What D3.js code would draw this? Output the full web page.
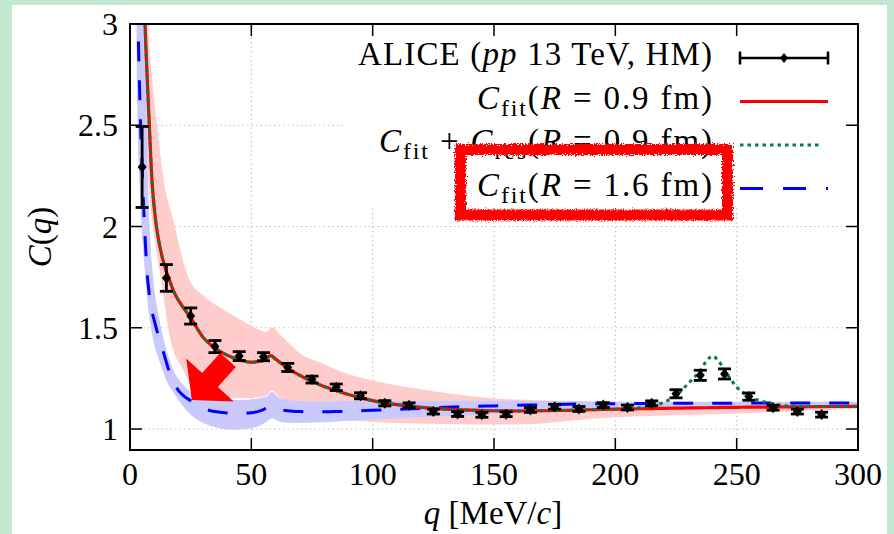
<!DOCTYPE html>
<html><head><meta charset="utf-8">
<script src="https://cdn.jsdelivr.net/npm/d3@7/dist/d3.min.js"></script>
<style>
html,body{margin:0;padding:0;background:#c3e8d1;}
svg{display:block;}
text{font-family:"Liberation Serif","Times New Roman",serif;fill:#000;}
</style></head><body>
<svg id="chart" width="894" height="534"></svg>
<script>
// ---------------- data ----------------
const xTicks = [0, 50, 100, 150, 200, 250, 300];
const xTickLabels = ["0", "50", "100", "150", "200", "250", "300"];
const yTicks = [1, 1.5, 2, 2.5, 3];
const yTickLabels = ["1", "1.5", "2", "2.5", "3"];

// ALICE data points
const dataQ = [5, 15, 25, 35, 45, 55, 65, 75, 85, 95, 105, 115, 125, 135, 145, 155, 165, 175, 185, 195, 205, 215, 225, 235, 245, 255, 265, 275, 285];
const dataC = [2.294, 1.746, 1.558, 1.407, 1.360, 1.357, 1.304, 1.244, 1.206, 1.164, 1.127, 1.117, 1.086, 1.074, 1.070, 1.073, 1.094, 1.110, 1.099, 1.118, 1.106, 1.127, 1.174, 1.265, 1.272, 1.160, 1.105, 1.086, 1.071];
const dataErr = [0.20, 0.066, 0.04, 0.03, 0.022, 0.02, 0.02, 0.017, 0.016, 0.015, 0.013, 0.012, 0.012, 0.012, 0.012, 0.012, 0.012, 0.012, 0.012, 0.012, 0.012, 0.012, 0.02, 0.025, 0.025, 0.018, 0.012, 0.012, 0.012];

// fit curves on a common q grid
const curveQ = [3, 3.5, 4, 4.5, 5, 5.5, 6, 6.5, 7, 8, 9, 10, 11, 12.5, 14, 16, 18, 20, 22.5, 25, 27.5, 30, 35, 40, 45, 50, 55, 58, 60, 65, 70, 75, 80, 85, 90, 95, 100, 110, 120, 130, 140, 150, 160, 170, 180, 190, 200, 210, 215, 220, 225, 230, 235, 237.5, 240, 242.5, 245, 250, 255, 260, 265, 270, 280, 290, 300];
const fitR09 = [5.3, 4.7, 4.2, 3.8, 3.5, 3.25, 3.07, 2.9, 2.76, 2.49, 2.24, 2.09, 1.99, 1.89, 1.815, 1.745, 1.68, 1.635, 1.59, 1.55, 1.50, 1.455, 1.40, 1.365, 1.342, 1.33, 1.338, 1.362, 1.345, 1.30, 1.265, 1.235, 1.21, 1.19, 1.17, 1.155, 1.14, 1.12, 1.107, 1.098, 1.093, 1.09, 1.089, 1.09, 1.092, 1.095, 1.098, 1.10, 1.101, 1.102, 1.103, 1.104, 1.105, 1.105, 1.106, 1.106, 1.107, 1.107, 1.108, 1.108, 1.109, 1.109, 1.110, 1.111, 1.112];
const resContribution = [0, 0, 0, 0, 0, 0, 0, 0, 0, 0, 0, 0, 0, 0, 0, 0, 0, 0, 0, 0, 0, 0, 0, 0, 0, 0, 0, 0, 0, 0, 0, 0, 0, 0, 0, 0, 0, 0, 0, 0, 0, 0, 0, 0, 0, 0, 0, 0.005, 0.012, 0.03, 0.062, 0.12, 0.185, 0.23, 0.254, 0.23, 0.185, 0.10, 0.053, 0.031, 0.015, 0.006, 0.001, 0, 0];
const fitR16 = [3.3, 2.9, 2.66, 2.45, 2.30, 2.13, 2.0, 1.88, 1.78, 1.66, 1.585, 1.535, 1.49, 1.43, 1.37, 1.29, 1.23, 1.19, 1.16, 1.14, 1.12, 1.103, 1.086, 1.079, 1.077, 1.08, 1.096, 1.114, 1.102, 1.09, 1.086, 1.085, 1.085, 1.086, 1.088, 1.09, 1.092, 1.097, 1.102, 1.107, 1.111, 1.114, 1.117, 1.119, 1.122, 1.124, 1.125, 1.126, 1.126, 1.126, 1.127, 1.127, 1.127, 1.127, 1.127, 1.127, 1.127, 1.127, 1.128, 1.128, 1.128, 1.128, 1.128, 1.128, 1.128];

// uncertainty band, R = 0.9 fm
const band09UpperQ = [5, 6, 7, 7.6, 9, 11, 14, 17.9, 21, 24, 30, 37, 45, 52, 56, 58.4, 62, 70, 80, 90, 100, 118, 135, 150, 175, 200, 250, 300];
const band09Upper = [5.0, 4.2, 3.4, 3.0, 2.75, 2.52, 2.22, 2.03, 1.87, 1.75, 1.66, 1.60, 1.545, 1.497, 1.48, 1.502, 1.465, 1.374, 1.32, 1.27, 1.24, 1.20, 1.17, 1.151, 1.14, 1.135, 1.125, 1.12];
const band09LowerQ = [4, 5.5, 6.5, 8, 10.3, 13, 16.5, 22, 26, 30, 40, 50, 56, 58.4, 62, 68, 80, 90, 100, 130, 160, 193, 250, 300];
const band09Lower = [4.5, 3.0, 2.5, 2.17, 1.93, 1.72, 1.45, 1.29, 1.20, 1.165, 1.152, 1.153, 1.163, 1.19, 1.15, 1.10, 1.055, 1.042, 1.035, 1.025, 1.022, 1.053, 1.077, 1.10];

// uncertainty band, R = 1.6 fm
const band16UpperQ = [5, 6.2, 6.9, 8.3, 9.6, 12, 16.5, 23.4, 30.2, 37, 44, 52, 56.3, 58.4, 61.8, 70, 78, 95, 150, 200, 250, 300];
const band16Upper = [4.0, 3.0, 2.5, 1.95, 1.74, 1.55, 1.333, 1.20, 1.151, 1.145, 1.143, 1.15, 1.16, 1.184, 1.151, 1.138, 1.135, 1.138, 1.14, 1.135, 1.135, 1.135];
const band16LowerQ = [2.5, 2.7, 3.0, 4.0, 5.0, 6.0, 7.5, 9.6, 12, 15, 18.5, 22, 26, 31.6, 37, 42.6, 48, 52, 56, 58.4, 61, 64.6, 70, 84, 95, 132, 160, 195, 250, 300];
const band16Lower = [3.5, 3.0, 2.6, 2.2, 1.95, 1.8, 1.6, 1.44, 1.34, 1.24, 1.17, 1.11, 1.06, 1.022, 1.004, 0.996, 1.0, 1.01, 1.033, 1.053, 1.04, 1.031, 1.03, 1.036, 1.044, 1.064, 1.08, 1.10, 1.112, 1.115];

// arrow annotation (data coordinates)
const arrowTail = [40.4, 1.341];
const arrowTip = [25.5, 1.143];

// ---------------- layout ----------------
const W = 894, H = 534;
const plot = {left: 130, right: 858, top: 24, bottom: 450};
const x = d3.scaleLinear().domain([0, 300]).range([plot.left, plot.right]);
const y = d3.scaleLinear().domain([1, 3]).range([429, 24]);

const svg = d3.select("#chart");
const defs = svg.append("defs");
defs.append("clipPath").attr("id", "clip").append("rect")
  .attr("x", plot.left).attr("y", plot.top)
  .attr("width", plot.right - plot.left).attr("height", plot.bottom - plot.top);
const f = defs.append("filter").attr("id", "rough")
  .attr("x", "-10%").attr("y", "-20%").attr("width", "120%").attr("height", "140%");
f.append("feTurbulence").attr("type", "fractalNoise").attr("baseFrequency", 0.9)
  .attr("numOctaves", 2).attr("seed", 3).attr("result", "noise");
f.append("feDisplacementMap").attr("in", "SourceGraphic").attr("in2", "noise")
  .attr("scale", 6).attr("xChannelSelector", "R").attr("yChannelSelector", "G");

// white panel
svg.append("rect").attr("x", 12).attr("y", 5).attr("width", 875).attr("height", H - 5).attr("fill", "#fff");

// grid
const grid = svg.append("g").attr("stroke", "#c4c4c4").attr("stroke-width", 1.2).attr("stroke-dasharray", "1.5,3");
xTicks.filter(t => t > 0 && t < 300).forEach(t => {
  grid.append("line").attr("x1", x(t)).attr("x2", x(t)).attr("y1", plot.top).attr("y2", plot.bottom);
});
yTicks.filter(t => t < 3).forEach(t => {
  grid.append("line").attr("x1", plot.left).attr("x2", plot.right).attr("y1", y(t)).attr("y2", y(t));
});

// legend box (opaque)
svg.append("rect").attr("x", 346).attr("y", plot.top).attr("width", plot.right - 346).attr("height", 207 - plot.top).attr("fill", "#fff");

const gp = svg.append("g").attr("clip-path", "url(#clip)");
const lineGen = d3.line().x(d => x(d[0])).y(d => y(d[1])).curve(d3.curveMonotoneX);
function bandPath(uq, uc, lq, lc) {
  const up = uq.map((q, i) => [q, uc[i]]);
  const lo = lq.map((q, i) => [q, lc[i]]).reverse();
  return lineGen(up) + lineGen(lo).replace(/^M/, "L") + "Z";
}
gp.append("path").attr("d", bandPath(band09UpperQ, band09Upper, band09LowerQ, band09Lower)).attr("fill", "#ffcccc");
gp.append("path").attr("d", bandPath(band16UpperQ, band16Upper, band16LowerQ, band16Lower)).attr("fill", "#c9c9fb");

// curves
const blueData = curveQ.map((q, i) => [q, fitR16[i]]);
const redData = curveQ.map((q, i) => [q, fitR09[i]]);
const greenData = curveQ.map((q, i) => [q, fitR09[i] + resContribution[i]]);
gp.append("path").attr("d", lineGen(blueData)).attr("fill", "none").attr("stroke", "#0000ff")
  .attr("stroke-width", 3).attr("stroke-dasharray", "20,19");
gp.append("path").attr("d", lineGen(redData)).attr("fill", "none").attr("stroke", "#ff0000").attr("stroke-width", 3.2);
gp.append("path").attr("d", lineGen(greenData)).attr("fill", "none").attr("stroke", "#00803c")
  .attr("stroke-width", 3).attr("stroke-dasharray", "3.5,4");

// data points
const pts = dataQ.map((q, i) => ({q, c: dataC[i], e: dataErr[i]}));
const pg = gp.append("g").attr("stroke", "#000").attr("stroke-width", 2.8);
pts.forEach(p => {
  const px = x(p.q), y0 = y(p.c - p.e), y1 = y(p.c + p.e);
  pg.append("line").attr("x1", px).attr("x2", px).attr("y1", y0).attr("y2", y1);
  pg.append("line").attr("x1", px - 6.5).attr("x2", px + 6.5).attr("y1", y0).attr("y2", y0);
  pg.append("line").attr("x1", px - 6.5).attr("x2", px + 6.5).attr("y1", y1).attr("y2", y1);
  pg.append("path").attr("d", `M${px},${y(p.c) - 5.5}L${px + 4.5},${y(p.c)}L${px},${y(p.c) + 5.5}L${px - 4.5},${y(p.c)}Z`)
    .attr("fill", "#000").attr("stroke", "none");
});

// arrow
(function () {
  const T = [x(arrowTip[0]), y(arrowTip[1])], S = [x(arrowTail[0]), y(arrowTail[1])];
  const len = Math.hypot(S[0] - T[0], S[1] - T[1]);
  const u = [(S[0] - T[0]) / len, (S[1] - T[1]) / len], n = [-u[1], u[0]];
  const headLen = 27, headHalf = 32, shaftHalf = 10.5;
  const B = [T[0] + u[0] * headLen, T[1] + u[1] * headLen];
  const P = (b, k) => [b[0] + n[0] * k, b[1] + n[1] * k];
  const poly = [T, P(B, headHalf), P(B, shaftHalf), P(S, shaftHalf), P(S, -shaftHalf), P(B, -shaftHalf), P(B, -headHalf)];
  svg.append("path").attr("d", "M" + poly.map(p => p.join(",")).join("L") + "Z").attr("fill", "#ff0000");
})();

// frame & ticks
const ax = svg.append("g").attr("stroke", "#000");
ax.append("rect").attr("x", plot.left).attr("y", plot.top).attr("width", plot.right - plot.left)
  .attr("height", plot.bottom - plot.top).attr("fill", "none").attr("stroke-width", 2);
xTicks.filter(t => t > 0 && t < 300).forEach(t => {
  ax.append("line").attr("x1", x(t)).attr("x2", x(t)).attr("y1", plot.bottom).attr("y2", plot.bottom - 12).attr("stroke-width", 1.5);
  ax.append("line").attr("x1", x(t)).attr("x2", x(t)).attr("y1", plot.top).attr("y2", plot.top + 12).attr("stroke-width", 1.5);
});
yTicks.filter(t => t < 3).forEach(t => {
  ax.append("line").attr("x1", plot.left).attr("x2", plot.left + 12).attr("y1", y(t)).attr("y2", y(t)).attr("stroke-width", 1.5);
  ax.append("line").attr("x1", plot.right).attr("x2", plot.right - 12).attr("y1", y(t)).attr("y2", y(t)).attr("stroke-width", 1.5);
});

// tick labels
const FS = 32;
xTicks.forEach((t, i) => {
  svg.append("text").attr("x", x(t)).attr("y", 485).attr("text-anchor", "middle").attr("font-size", FS).text(xTickLabels[i]);
});
yTicks.forEach((t, i) => {
  svg.append("text").attr("x", 118).attr("y", y(t) + 11).attr("text-anchor", "end").attr("font-size", FS).text(yTickLabels[i]);
});

// axis titles
const yl = svg.append("text").attr("transform", "translate(51,237) rotate(-90)").attr("text-anchor", "middle").attr("font-size", 33);
yl.append("tspan").attr("font-style", "italic").text("C");
yl.append("tspan").text("(");
yl.append("tspan").attr("font-style", "italic").text("q");
yl.append("tspan").text(")");
const xl = svg.append("text").attr("x", 493).attr("y", 524).attr("text-anchor", "middle").attr("font-size", 33);
xl.append("tspan").attr("font-style", "italic").text("q");
xl.append("tspan").text(" [MeV/");
xl.append("tspan").attr("font-style", "italic").text("c");
xl.append("tspan").text("]");

// legend
const legendRight = 712, sx0 = 740, sx1 = 828;
const rowBase = [65, 108.5, 152, 195.5];
const rowWidth = [354, 235, 333, 235];
function addParts(t, parts) {
  parts.forEach(p => {
    const s = t.append("tspan").text(p.t);
    if (p.i) s.attr("font-style", "italic");
    if (p.sub) s.attr("font-size", 24).attr("dy", 7);
    if (p.back) s.attr("dy", -7);
  });
}
const legendRows = [
  [{t: "ALICE ("}, {t: "pp", i: 1}, {t: " 13 TeV, HM)"}],
  [{t: "C", i: 1}, {t: "fit", sub: 1}, {t: "(", back: 1}, {t: "R", i: 1}, {t: " = 0.9 fm)"}],
  [{t: "C", i: 1}, {t: "fit", sub: 1}, {t: " + ", back: 1}, {t: "C", i: 1}, {t: "res", sub: 1}, {t: "(", back: 1}, {t: "R", i: 1}, {t: " = 0.9 fm)"}],
  [{t: "C", i: 1}, {t: "fit", sub: 1}, {t: "(", back: 1}, {t: "R", i: 1}, {t: " = 1.6 fm)"}]
];
legendRows.forEach((parts, i) => {
  const t = svg.append("text").attr("x", legendRight - rowWidth[i]).attr("y", rowBase[i])
    .attr("font-size", 33).attr("textLength", rowWidth[i]).attr("lengthAdjust", "spacing");
  addParts(t, parts);
});
const lg = svg.append("g");
const ly = rowBase.map(b => b - 7);
lg.append("line").attr("x1", sx0).attr("x2", sx1).attr("y1", ly[0]).attr("y2", ly[0]).attr("stroke", "#000").attr("stroke-width", 2.6);
[sx0, sx1].forEach(sx => lg.append("line").attr("x1", sx).attr("x2", sx).attr("y1", ly[0] - 6.5).attr("y2", ly[0] + 6.5).attr("stroke", "#000").attr("stroke-width", 2.6));
const mx = (sx0 + sx1) / 2;
lg.append("path").attr("d", `M${mx},${ly[0] - 5}L${mx + 4},${ly[0]}L${mx},${ly[0] + 5}L${mx - 4},${ly[0]}Z`).attr("fill", "#000");
lg.append("line").attr("x1", sx0).attr("x2", sx1).attr("y1", ly[1]).attr("y2", ly[1]).attr("stroke", "#ff0000").attr("stroke-width", 3.2);
lg.append("line").attr("x1", sx0).attr("x2", sx1 - 6).attr("y1", ly[2]).attr("y2", ly[2]).attr("stroke", "#00803c").attr("stroke-width", 3).attr("stroke-dasharray", "3.5,4");
lg.append("line").attr("x1", sx0).attr("x2", sx1).attr("y1", ly[3]).attr("y2", ly[3]).attr("stroke", "#0000ff").attr("stroke-width", 3).attr("stroke-dasharray", "23,20");

// red scribble box around the last legend entry
svg.append("rect").attr("x", 460.5).attr("y", 149.5).attr("width", 267).attr("height", 65.5)
  .attr("fill", "none").attr("stroke", "#ff0000").attr("stroke-width", 11).attr("filter", "url(#rough)");
</script>
</body></html>
